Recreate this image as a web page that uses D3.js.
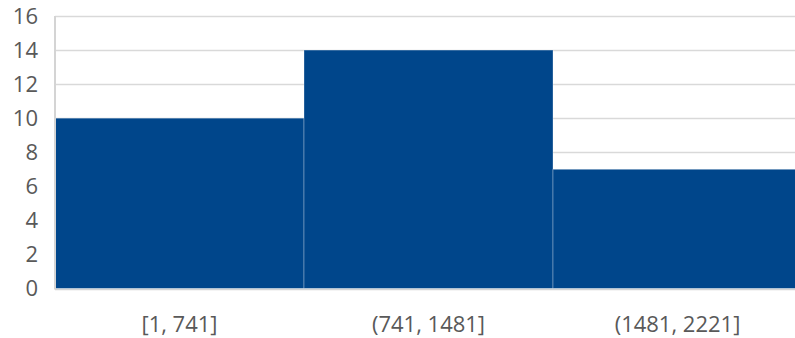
<!DOCTYPE html>
<html>
<head>
<meta charset="utf-8">
<script src="https://cdn.jsdelivr.net/npm/d3@7/dist/d3.min.js"></script>
<style>
  html, body { margin: 0; padding: 0; background: #fff; }
  svg { display: block; }
  text { font-family: "Open Sans", sans-serif; }
</style>
</head>
<body>
<svg id="chart" width="795" height="338"></svg>
<script>
// Histogram bins and their counts
const categories = ["[1, 741]", "(741, 1481]", "(1481, 2221]"];
const counts = [10, 14, 7];
const yTicks = [0, 2, 4, 6, 8, 10, 12, 14, 16];

const svg = d3.select("#chart");
const plotLeft = 55, plotRight = 802, plotTop = 16, plotBottom = 288.5;

const x = d3.scaleBand().domain(categories).range([plotLeft, plotRight]).padding(0);
const y = d3.scaleLinear().domain([0, 16]).range([plotBottom, plotTop]);

// Horizontal gridlines
svg.append("g")
  .selectAll("line")
  .data(yTicks.filter(d => d > 0))
  .join("line")
  .attr("x1", plotLeft).attr("x2", 795)
  .attr("y1", d => Math.round(y(d)) + 0.5)
  .attr("y2", d => Math.round(y(d)) + 0.5)
  .attr("stroke", "#d9d9d9")
  .attr("stroke-width", 1.5);

// Bars
svg.append("g")
  .selectAll("rect")
  .data(counts)
  .join("rect")
  .attr("x", (d, i) => x(categories[i]))
  .attr("width", x.bandwidth())
  .attr("y", d => y(d))
  .attr("height", d => y(0) - y(d))
  .attr("fill", "#00468b")
  .attr("stroke", "rgba(255,255,255,0.3)")
  .attr("stroke-width", 1);

// Axis lines
svg.append("line")
  .attr("x1", plotLeft).attr("x2", plotLeft)
  .attr("y1", plotTop).attr("y2", plotBottom + 1)
  .attr("stroke", "#d4d4d4").attr("stroke-width", 2);
svg.append("line")
  .attr("x1", plotLeft).attr("x2", 795)
  .attr("y1", plotBottom + 1).attr("y2", plotBottom + 1)
  .attr("stroke", "#d4d4d4").attr("stroke-width", 1.5);

// Y axis tick labels
const yAxis = d3.axisLeft(y).tickValues(yTicks).tickSize(0).tickPadding(17);
const gy = svg.append("g").attr("transform", `translate(${plotLeft},0)`).call(yAxis);
gy.select(".domain").remove();
gy.selectAll("text")
  .attr("fill", "#595959")
  .style("font-size", "22px")
  .style("font-family", "'Open Sans', sans-serif");

// X axis category labels
const xAxis = d3.axisBottom(x).tickSize(0).tickPadding(28);
const gx = svg.append("g").attr("transform", `translate(0,${plotBottom})`).call(xAxis);
gx.select(".domain").remove();
gx.selectAll("text")
  .attr("fill", "#595959")
  .style("font-size", "22px")
  .style("font-family", "'Open Sans', sans-serif");
</script>
</body>
</html>
